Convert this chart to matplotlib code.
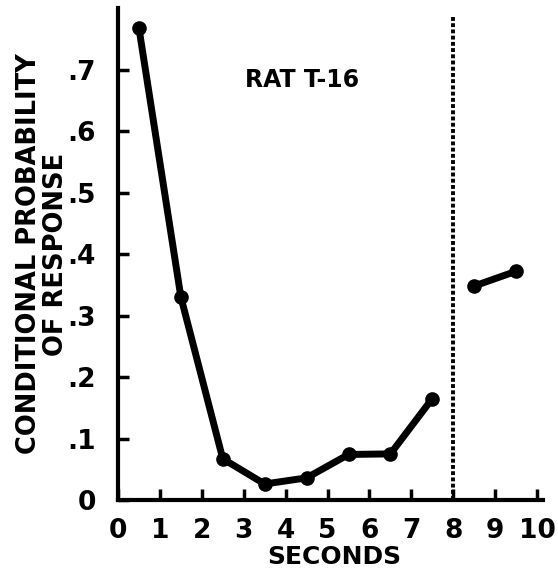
import matplotlib
matplotlib.use("Agg")
import matplotlib.pyplot as plt

seconds_a = [0.5, 1.5, 2.5, 3.5, 4.5, 5.5, 6.5, 7.5]
prob_a = [0.767, 0.33, 0.067, 0.026, 0.036, 0.074, 0.075, 0.165]
seconds_b = [8.5, 9.5]
prob_b = [0.348, 0.372]
x_ticks = [0, 1, 2, 3, 4, 5, 6, 7, 8, 9, 10]
x_tick_labels = ["0", "1", "2", "3", "4", "5", "6", "7", "8", "9", "10"]
y_ticks = [0, 0.1, 0.2, 0.3, 0.4, 0.5, 0.6, 0.7]
y_tick_labels = ["0", ".1", ".2", ".3", ".4", ".5", ".6", ".7"]
boundary = 8

plt.rcParams['font.family'] = ['DejaVu Sans']
plt.rcParams['font.weight'] = 'bold'
fig = plt.figure(figsize=(5.58, 5.73), dpi=100)
ax = fig.add_axes([0.2115, 0.1274, 0.9731 - 0.2115, 0.986 - 0.1274])

ax.plot(seconds_a, prob_a, color='black', lw=5, marker='o', ms=9.5, solid_joinstyle='round')
ax.plot(seconds_b, prob_b, color='black', lw=5, marker='o', ms=9.5)
ax.plot([boundary, boundary], [0, 0.785], color='black', lw=2.8, ls=(0, (1, 0.6)))

ax.set_xlim(0, 10.14)
ax.set_ylim(0, 0.8)
ax.set_xticks(x_ticks)
ax.set_xticklabels(x_tick_labels, fontweight='bold')
ax.set_yticks(y_ticks)
ax.set_yticklabels(y_tick_labels, fontweight='bold')
for s in ['top', 'right']:
    ax.spines[s].set_visible(False)
for s in ['left', 'bottom']:
    ax.spines[s].set_linewidth(3)
ax.tick_params(direction='in', length=8, width=2.5, labelsize=19, pad=13)
ax.tick_params(axis='y', pad=16)

ax.text(4.39, 0.683, "RAT T-16", fontsize=17, fontweight='bold', ha='center', va='center')
ax.set_xlabel("SECONDS", fontsize=18, fontweight='bold')
ax.xaxis.set_label_coords(0.508, -0.092)
ax.set_ylabel("CONDITIONAL PROBABILITY\nOF RESPONSE", fontsize=18.5, fontweight='bold',
              linespacing=1.05)
ax.yaxis.set_label_coords(-0.116, 0.5)

fig.savefig("out.png", dpi=100)
